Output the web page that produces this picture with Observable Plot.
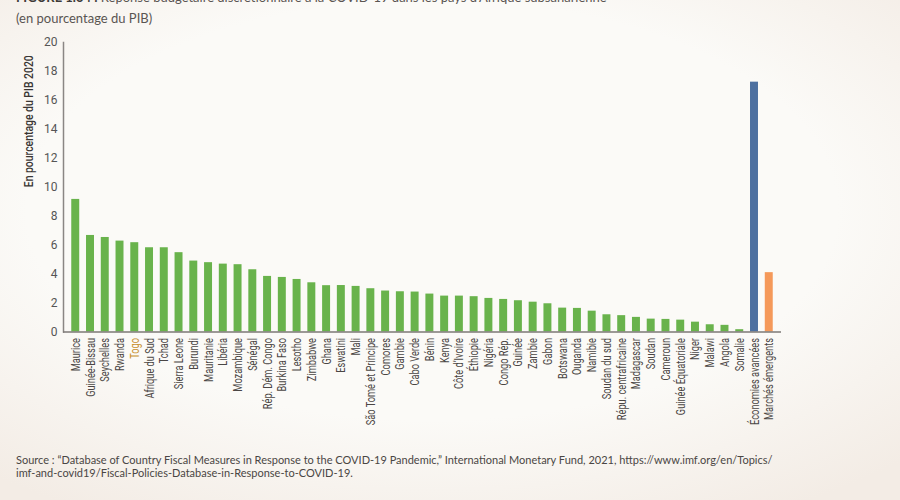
<!DOCTYPE html>
<html lang="fr">
<head>
<meta charset="utf-8">
<script src="https://cdn.jsdelivr.net/npm/d3@7"></script>
<script src="https://cdn.jsdelivr.net/npm/@observablehq/plot@0.6"></script>
<style>
  html, body { margin: 0; padding: 0; }
  body {
    width: 900px; height: 500px; overflow: hidden; position: relative;
    background: radial-gradient(ellipse 75% 70% at 48% 42%, #fbfaf7 60%, #f3ece5 100%);
  }
  .titre {
    padding-left: 16px; height: 18px;
    font-family: Lato, "Open Sans", sans-serif; font-size: 13px; line-height: 18px; color: #5a5552;
    white-space: nowrap;
  }
  #titre1 { margin-top: -12px; }
  #titre2 { margin-top: 3px; }
  .titre b { color: #3d3a38; }
  #chart svg { display: block; overflow: visible; }
  #source {
    position: absolute; top: 454px; left: 16px;
    font-family: Lato, "Open Sans", sans-serif; font-size: 11px; line-height: 12.5px; color: #4a4644;
  }
</style>
</head>
<body>
<div class="titre" id="titre1"><b>FIGURE 1.34 :</b> Réponse budgétaire discrétionnaire à la COVID-19 dans les pays d’Afrique subsaharienne</div>
<div class="titre" id="titre2">(en pourcentage du PIB)</div>
<div id="chart"></div>
<div id="source">Source : “Database of Country Fiscal Measures in Response to the COVID-19 Pandemic,” International Monetary Fund, 2021, https://www.imf.org/en/Topics/<br>imf-and-covid19/Fiscal-Policies-Database-in-Response-to-COVID-19.</div>
<script>
// Pays d'Afrique subsaharienne, puis les deux groupes de comparaison
const pays = [
  "Maurice", "Guinée-Bissau", "Seychelles", "Rwanda", "Togo", "Afrique du Sud", "Tchad",
  "Sierra Leone", "Burundi", "Mauritanie", "Libéria", "Mozambique", "Sénégal",
  "Rép. Dém. Congo", "Burkina Faso", "Lesotho", "Zimbabwe", "Ghana", "Eswatini", "Mali",
  "São Tomé et Principe", "Comores", "Gambie", "Cabo Verde", "Bénin", "Kenya",
  "Côte d’Ivoire", "Éthiopie", "Nigéria", "Congo Rép.", "Guinée", "Zambie", "Gabon",
  "Botswana", "Ouganda", "Namibie", "Soudan du sud", "Répu. centrafricaine", "Madagascar",
  "Soudan", "Cameroun", "Guinée Équatoriale", "Niger", "Malawi", "Angola", "Somalie",
  "Économies avancées", "Marchés émergents"
];

// Réponse budgétaire discrétionnaire, en % du PIB 2020
const valeurs = [
  9.16, 6.67, 6.53, 6.28, 6.17, 5.82, 5.82, 5.48, 4.90, 4.79, 4.69, 4.65, 4.30,
  3.84, 3.77, 3.63, 3.40, 3.20, 3.21, 3.15, 2.99, 2.83, 2.78, 2.76, 2.62, 2.48,
  2.48, 2.44, 2.32, 2.25, 2.16, 2.06, 1.95, 1.65, 1.63, 1.44, 1.19, 1.13, 1.01,
  0.89, 0.87, 0.82, 0.68, 0.50, 0.46, 0.16, 17.26, 4.10
];

const groupes = ["Afrique subsaharienne", "Économies avancées", "Marchés émergents"];
const couleurs = ["#69b34c", "#4d70a0", "#f5995a"];
const paysMisEnAvant = ["Togo"];
const ticksY = [0, 2, 4, 6, 8, 10, 12, 14, 16, 18, 20];
const titreAxeY = "En pourcentage du PIB 2020";

const donnees = pays.map((p, i) => ({
  pays: p,
  valeur: valeurs[i],
  groupe: groupes.includes(p) ? p : groupes[0]
}));

const police = "Roboto, 'Noto Sans', sans-serif";

const chart = Plot.plot({
  width: 900,
  height: 410,
  marginTop: 15,
  marginBottom: 105.5,
  marginLeft: 63,
  marginRight: 119,
  style: { background: "transparent", fontFamily: police, fontSize: "12px", color: "#555" },
  x: { type: "band", domain: pays, paddingInner: 0.46, paddingOuter: 0.56, label: null },
  y: { domain: [0, 20], label: null },
  color: { domain: groupes, range: couleurs },
  marks: [
    Plot.barY(donnees, { x: "pays", y: "valeur", fill: "groupe" }),
    Plot.frame({ anchor: "left", stroke: "#8a8684", strokeWidth: 1.5 }),
    Plot.ruleY([0], { stroke: "#7c7876", strokeWidth: 1.5 }),
    Plot.axisY(ticksY, { tickSize: 0, tickPadding: 6, fontSize: 12, fill: "#555", label: null }),
    Plot.axisX(pays.filter(p => !paysMisEnAvant.includes(p)), {
      tickSize: 0, tickPadding: 6, tickRotate: -90, fontSize: 12.5, fill: "#4a4644", label: null
    }),
    Plot.axisX(paysMisEnAvant, {
      tickSize: 0, tickPadding: 6, tickRotate: -90, fontSize: 12.5, fill: "#c8902e", label: null
    }),
    Plot.text([titreAxeY], {
      frameAnchor: "left", rotate: -90, dx: -35, fontSize: 12.5, fontWeight: 500, fill: "#3a3634"
    })
  ]
});

document.getElementById("chart").append(chart);

// Police étroite : on resserre les libellés pivotés dans le sens de lecture
function resserrer(selection, longueurCible, reference) {
  const nodes = selection.nodes();
  const ref = nodes.find(n => n.textContent === reference) || nodes[0];
  if (!ref) return;
  const k = Math.min(1, longueurCible / ref.getComputedTextLength());
  nodes.forEach(n => {
    const t = n.getAttribute("transform") || "";
    n.setAttribute("transform", t + ` scale(${k},1)`);
  });
}
const svg = d3.select(chart);
resserrer(svg.selectAll("g[aria-label='x-axis tick label'] text"), 87, "Économies avancées");
resserrer(svg.selectAll("g[aria-label='text'] text"), 132, titreAxeY);
</script>
</body>
</html>
